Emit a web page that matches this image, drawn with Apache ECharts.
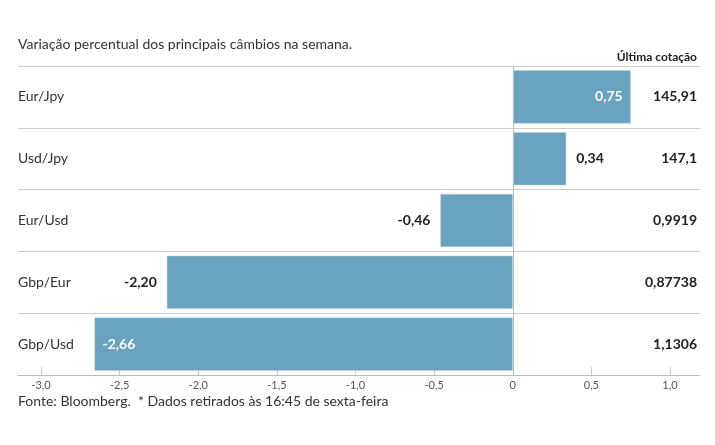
<!DOCTYPE html>
<html>
<head>
<meta charset="utf-8">
<script src="https://cdn.jsdelivr.net/npm/echarts@6/dist/echarts.min.js"></script>
<style>
  html, body { margin: 0; padding: 0; background: #fff; }
  #main { width: 715px; height: 445px; }
</style>
</head>
<body>
<div id="main"></div>
<script>
var pares = ['Eur/Jpy', 'Usd/Jpy', 'Eur/Usd', 'Gbp/Eur', 'Gbp/Usd'];
var variacao = [0.75, 0.34, -0.46, -2.20, -2.66];
var cotacao = ['145,91', '147,1', '0,9919', '0,87738', '1,1306'];
var labelPos = ['insideRight', 'right', 'left', 'left', 'insideLeft'];

var chart = echarts.init(document.getElementById('main'));
var font = 'Lato, sans-serif';
var fmt = function (v) { return v.toFixed(2).replace('.', ','); };

chart.setOption({
  animation: false,
  textStyle: { fontFamily: font },
  title: [{
    text: 'Variação percentual dos principais câmbios na semana.',
    left: 18, top: 37, padding: 0,
    textStyle: { fontSize: 14, fontWeight: 'normal', color: '#333', fontFamily: font }
  }, {
    text: 'Última cotação',
    right: 18, top: 51, padding: 0,
    textStyle: { fontSize: 12, fontWeight: 'bold', color: '#222', fontFamily: font }
  }, {
    text: 'Fonte: Bloomberg.  * Dados retirados às 16:45 de sexta-feira',
    left: 18, top: 394, padding: 0,
    textStyle: { fontSize: 14, fontWeight: 'normal', color: '#333', fontFamily: font }
  }],
  grid: [
    { left: 18, right: 15, top: 66, bottom: 70 },
    { left: 41, right: 45, top: 66, bottom: 70 }
  ],
  xAxis: [{
    gridIndex: 0, type: 'value', min: 0, max: 1,
    axisLine: { show: true, lineStyle: { color: '#bbb' } },
    axisTick: { show: false }, axisLabel: { show: false }, splitLine: { show: false }
  }, {
    gridIndex: 1, type: 'value', min: -3, max: 1, interval: 0.5,
    axisLine: { show: false },
    axisTick: { show: true, inside: true, length: 8, lineStyle: { color: '#ccc' } },
    axisLabel: {
      color: '#555', fontSize: 11, margin: 5,
      formatter: function (v) { return v === 0 ? '0' : v.toFixed(1).replace('.', ','); }
    },
    splitLine: { show: false }
  }],
  yAxis: [{
    gridIndex: 0, type: 'category', data: pares, inverse: true,
    axisLine: { show: false }, axisTick: { show: false },
    axisLabel: { inside: true, margin: 0, color: '#333', fontSize: 14, align: 'left', padding: [0, 0, 6, 0] },
    splitLine: { show: true, lineStyle: { color: '#ccc', width: 1 } }
  }, {
    gridIndex: 0, type: 'category', data: cotacao, inverse: true, position: 'right',
    axisLine: { show: false }, axisTick: { show: false },
    axisLabel: { inside: true, margin: 3, color: '#222', fontSize: 14, fontWeight: 'bold' }
  }, {
    gridIndex: 1, type: 'category', data: pares, inverse: true,
    axisLine: { show: false }, axisTick: { show: false }, axisLabel: { show: false }
  }],
  series: [{
    type: 'bar',
    xAxisIndex: 1, yAxisIndex: 2,
    barCategoryGap: '14%',
    itemStyle: { color: '#6aa3bf', borderColor: '#b8d3e0', borderWidth: 0.5 },
    data: variacao.map(function (v, i) {
      var inside = labelPos[i].indexOf('inside') === 0;
      return {
        value: v,
        label: {
          show: true, position: labelPos[i], distance: inside ? 8 : 10,
          formatter: function (p) { return fmt(p.value); },
          color: inside ? '#fff' : '#222', fontSize: 14, fontWeight: 'bold'
        }
      };
    }),
    markLine: {
      silent: true, symbol: 'none', label: { show: false },
      lineStyle: { color: '#bbb', type: 'solid', width: 1 },
      data: [{ xAxis: 0 }]
    }
  }]
});
</script>
</body>
</html>
